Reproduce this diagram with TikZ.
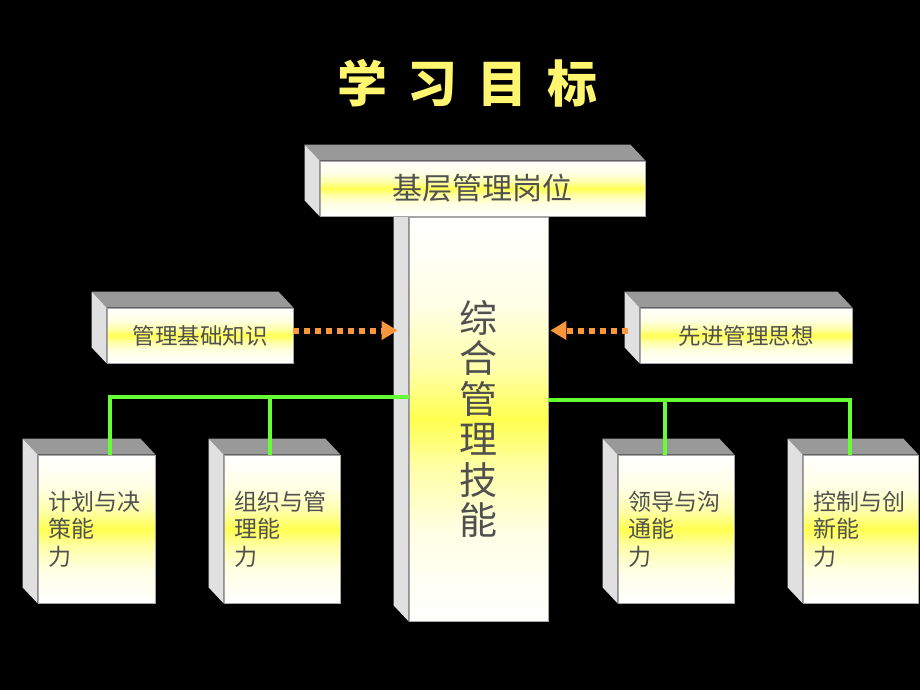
\documentclass[tikz,border=0pt]{standalone}
\usepackage{fontspec}
\setmainfont{Noto Sans CJK SC}
\usetikzlibrary{arrows.meta}

\definecolor{panelyellow}{RGB}{255,255,80}
\definecolor{sidegray}{RGB}{224,224,224}
\definecolor{topgray}{RGB}{153,153,153}
\definecolor{linkgreen}{RGB}{102,255,51}
\definecolor{hintorange}{RGB}{250,150,60}
\definecolor{titleyellow}{RGB}{255,245,110}
\definecolor{inkgray}{RGB}{80,80,80}

\pgfdeclareverticalshading{panel}{100bp}{
  color(0bp)=(white); color(25bp)=(white);
  color(36bp)=(white!85!panelyellow); color(44bp)=(white!50!panelyellow);
  color(50bp)=(panelyellow);
  color(56bp)=(white!50!panelyellow); color(64bp)=(white!85!panelyellow);
  color(75bp)=(white); color(100bp)=(white)}

\tikzset{
  front/.style={rectangle, inner sep=0pt, draw=gray!70, line width=0.8pt,
    shading=panel, text=inkgray},
  cell/.style={front, minimum height=148pt, inner xsep=10pt, text width=#1,
    align=left, font=\fontsize{23}{27.5}\selectfont},
  link/.style={linkgreen, line width=4pt},
  hint/.style={hintorange, line width=6pt, dash pattern=on 6pt off 5pt,
    -{Triangle[length=16pt,width=18pt]}},
}

% top and left faces of a box
\newcommand{\shelf}[1]{%
  \fill[topgray] (#1.north west) -- ++(-15,-16)
    -- ([xshift=-15pt,yshift=16pt]#1.north east) -- (#1.north east) -- cycle;
  \fill[sidegray] (#1.north west) -- ++(-15,-16)
    -- ([xshift=-15pt,yshift=16pt]#1.south west) -- (#1.south west) -- cycle;
}

\begin{document}
\begin{tikzpicture}[x=1pt,y=-1pt]
  \fill[black] (0,0) rectangle (920,690);
  \useasboundingbox (0,0) rectangle (920,690);

  \node[titleyellow, font=\fontsize{50}{50}\selectfont\bfseries] (title) at (467,83)
    {学\hspace{20pt}习\hspace{20pt}目\hspace{20pt}标};

  % centre column
  \node[front, minimum width=139pt, minimum height=404pt, align=center,
    font=\fontsize{38}{40.5}\selectfont] (col) at (478.5,419)
    {综\\合\\管\\理\\技\\能};
  \shelf{col}

  \node[front, minimum width=325pt, minimum height=55pt,
    font=\fontsize{30}{30}\selectfont] (post) at (482.5,188.5) {基层管理岗位};
  \shelf{post}

  \node[front, minimum width=186pt, minimum height=55pt,
    font=\fontsize{22.5}{22.5}\selectfont] (basics) at (200,335.5) {管理基础知识};
  \shelf{basics}
  \node[front, minimum width=212pt, minimum height=55pt,
    font=\fontsize{22.5}{22.5}\selectfont] (ideas) at (746,335.5) {先进管理思想};
  \shelf{ideas}

  % four abilities
  \node[cell=97pt] (plan) at (96.5,529) {计划与决\\策能\\力};
  \shelf{plan}
  \node[cell=96pt] (org) at (282,529) {组织与管\\理能\\力};
  \shelf{org}
  \node[cell=96pt] (lead) at (676,529) {领导与沟\\通能\\力};
  \shelf{lead}
  \node[cell=95pt] (ctrl) at (860.5,529) {控制与创\\新能\\力};
  \shelf{ctrl}

  \draw[hint] ([yshift=5pt]basics.east) -- ([xshift=-11pt,yshift=5pt]basics.east -| col.west);
  \draw[hint] ([xshift=-12pt,yshift=5pt]ideas.west) -- ([xshift=2pt,yshift=5pt]ideas.west -| col.east);

  \coordinate (jL) at (409,397);
  \coordinate (jR) at (548,400);
  \draw[link] (jL) -| ([xshift=13.5pt]plan.north);
  \draw[link] ([xshift=-12pt]org.north) |- (jL);
  \draw[link] (jR) -| ([xshift=-10.5pt]ctrl.north);
  \draw[link] ([xshift=-11pt]lead.north) |- (jR);
\end{tikzpicture}
\end{document}
